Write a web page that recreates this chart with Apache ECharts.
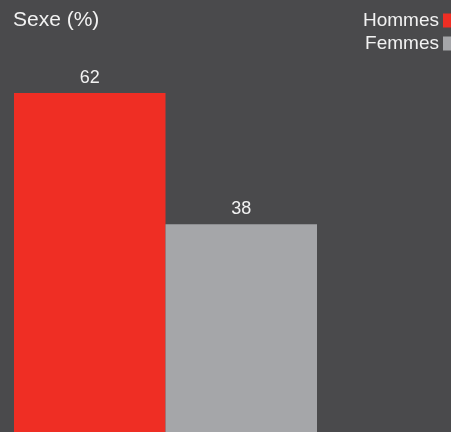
<!DOCTYPE html>
<html>
<head>
<meta charset="utf-8">
<script src="https://cdn.jsdelivr.net/npm/echarts@6/dist/echarts.min.js"></script>
<style>
html,body{margin:0;padding:0;background:#4a4a4c;}
#chart{width:451px;height:432px;}
</style>
</head>
<body>
<div id="chart"></div>
<script>
var categories = ['Sexe'];
var seriesNames = ['Hommes', 'Femmes'];
var hommesValues = [62];
var femmesValues = [38];
var seriesColors = ['#ef2e24', '#a5a6a9'];

var chart = echarts.init(document.getElementById('chart'));
var font = '"Liberation Sans", Arial, sans-serif';
var labelStyle = {show: true, position: 'top', distance: 6, color: '#f2f2f2', fontSize: 18, fontFamily: font};
chart.setOption({
  backgroundColor: '#4a4a4c',
  animation: false,
  title: {text: 'Sexe (%)', left: 13, top: 10, padding: 0, textStyle: {color: '#f2f2f2', fontSize: 21, fontWeight: 'normal', fontFamily: font}},
  legend: {
    data: seriesNames, orient: 'vertical', right: -6, top: 11, align: 'right', padding: 0,
    itemWidth: 14, itemHeight: 14, itemGap: 4, icon: 'rect',
    textStyle: {color: '#f2f2f2', fontSize: 19, fontFamily: font, padding: [0, -1, 0, 0]}
  },
  grid: {left: 14, width: 303, top: 0, bottom: -5},
  xAxis: {type: 'category', data: categories, show: false},
  yAxis: {type: 'value', min: 0, max: 79, show: false},
  series: [
    {name: seriesNames[0], type: 'bar', data: hommesValues, barGap: '0%', barCategoryGap: '0%', itemStyle: {color: seriesColors[0]}, label: labelStyle},
    {name: seriesNames[1], type: 'bar', data: femmesValues, barGap: '0%', barCategoryGap: '0%', itemStyle: {color: seriesColors[1]}, label: labelStyle}
  ]
});
</script>
</body>
</html>
